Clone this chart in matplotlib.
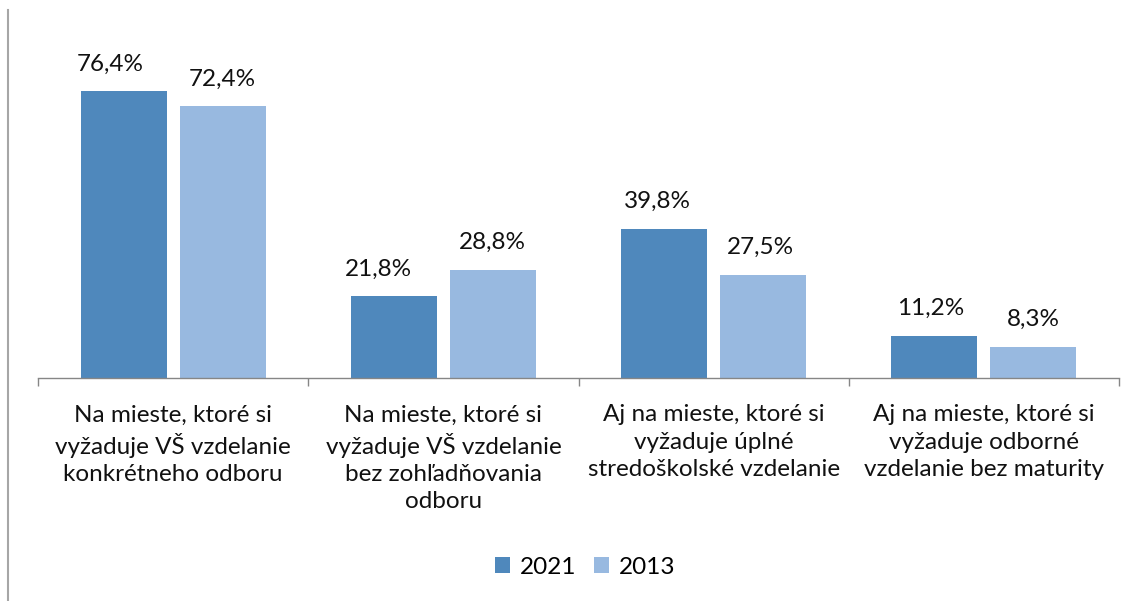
import numpy as np
import matplotlib
matplotlib.use("Agg")
import matplotlib.pyplot as plt
from matplotlib.lines import Line2D

kategorie = ["Na mieste, ktoré si\nvyžaduje VŠ vzdelanie\nkonkrétneho odboru",
             "Na mieste, ktoré si\nvyžaduje VŠ vzdelanie\nbez zohľadňovania\nodboru",
             "Aj na mieste, ktoré si\nvyžaduje úplné\nstredoškolské vzdelanie",
             "Aj na mieste, ktoré si\nvyžaduje odborné\nvzdelanie bez maturity"]
hodnoty_2021 = [76.4, 21.8, 39.8, 11.2]
hodnoty_2013 = [72.4, 28.8, 27.5, 8.3]

# posun popiskov (body) - v originali su niektore trochu vlavo
posun_2021 = [-10, -11, -5, -3]
posun_2013 = [0, 0, -2, 0]

plt.rcParams['font.family'] = ['Lato', 'DejaVu Sans']

fig = plt.figure(figsize=(11.38, 6.01), dpi=100)
W, H = 1138, 601
ax = fig.add_axes([38 / W, 223 / H, (1119 - 38) / W, 300.5 / H])

x = np.arange(len(kategorie))
sirka = 0.318
off = 0.183
r1 = ax.bar(x - off, hodnoty_2021, sirka, color='#4F88BC', label='2021')
r2 = ax.bar(x + off, hodnoty_2013, sirka, color='#98B9E0', label='2013')

for rects, posun in ((r1, posun_2021), (r2, posun_2013)):
    for rect, dx in zip(rects, posun):
        h = rect.get_height()
        ax.annotate('{:.1f}%'.format(h).replace('.', ','),
                    xy=(rect.get_x() + rect.get_width() / 2, h),
                    xytext=(dx, 12), textcoords="offset points",
                    ha='center', va='bottom', fontsize=17.5, color='#111111',
                    clip_on=False)

ax.set_xlim(-0.5, len(kategorie) - 0.5)
ax.set_ylim(0, 80)
ax.set_yticks([])
for s in ['top', 'right', 'left']:
    ax.spines[s].set_visible(False)
ax.spines['bottom'].set_color('#868686')
ax.spines['bottom'].set_linewidth(1)

ax.set_xticks(np.arange(len(kategorie) + 1) - 0.5)
ax.set_xticklabels([])
ax.tick_params(axis='x', length=6, color='#868686', width=1)
ax.set_xticks(x, minor=True)
ax.set_xticklabels(kategorie, minor=True, fontsize=17.5, color='#111111',
                   linespacing=1.36, va='top')
ax.tick_params(axis='x', which='minor', length=0, pad=19)

fig.legend(loc='center', bbox_to_anchor=(585 / W, 1 - 567 / H), ncol=2,
           frameon=False, fontsize=17.5, handlelength=0.62, handleheight=0.62,
           handletextpad=0.4, columnspacing=0.75)

fig.add_artist(Line2D([8 / W, 8 / W], [0, 1 - 10 / H], transform=fig.transFigure,
                      color='#A6A6A6', linewidth=1.5))

plt.savefig("out.png", dpi=100)
